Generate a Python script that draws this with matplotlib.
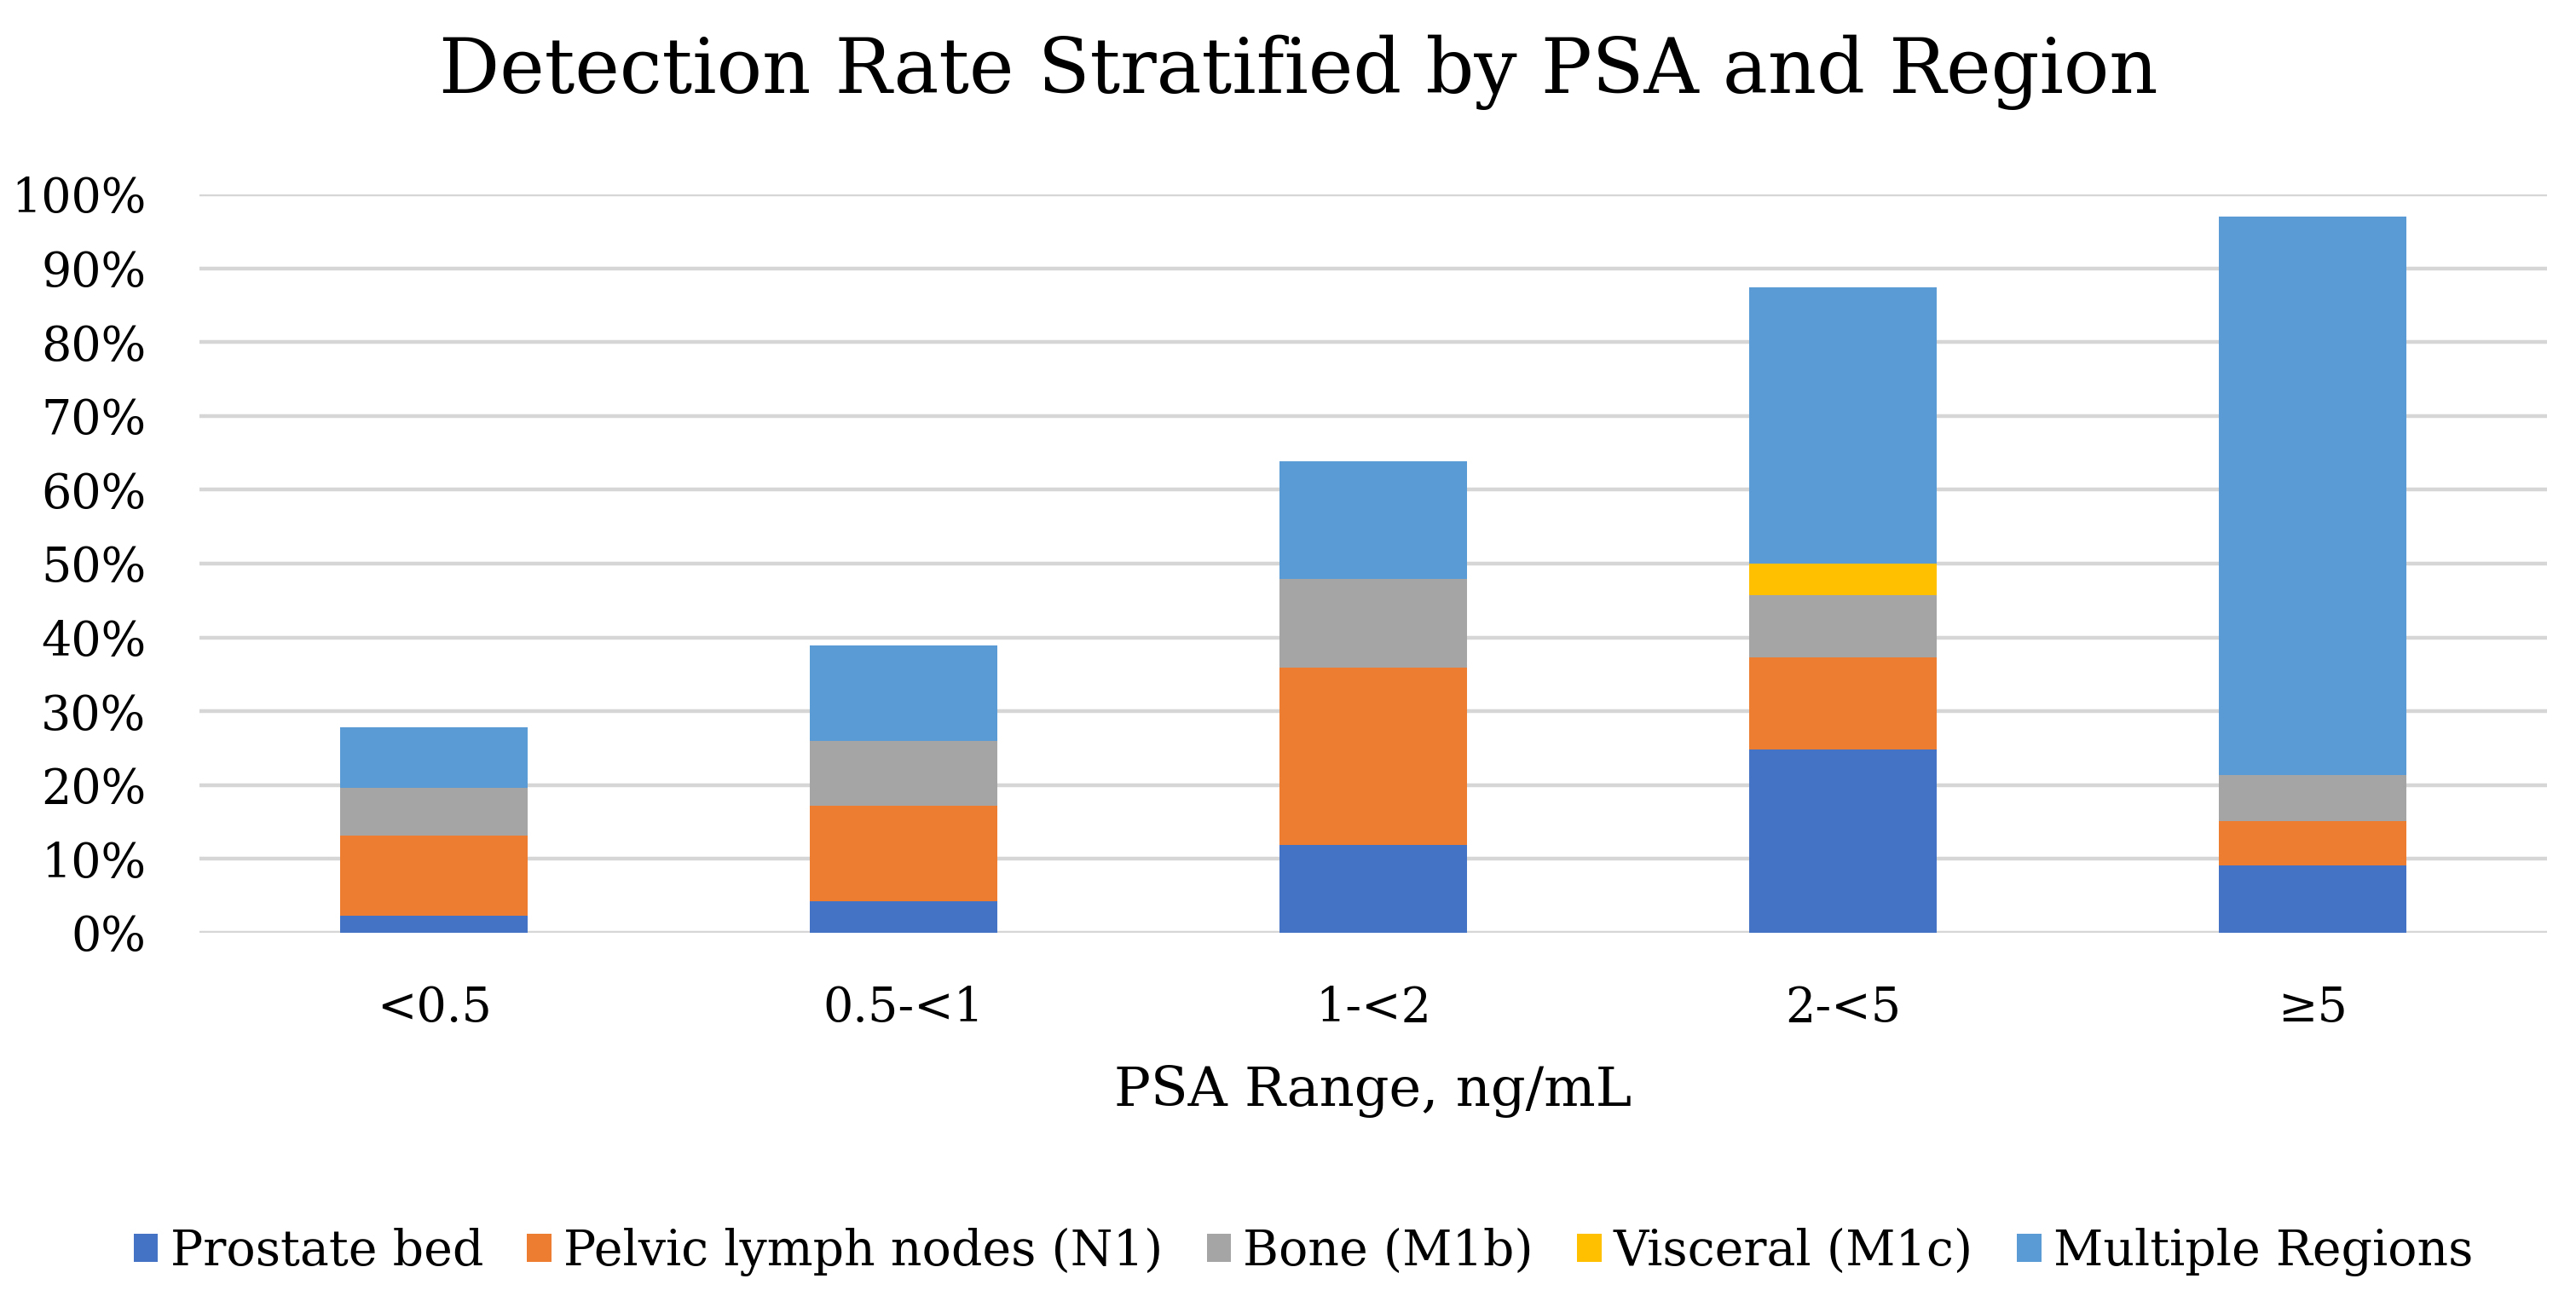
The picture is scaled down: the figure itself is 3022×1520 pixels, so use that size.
import matplotlib
matplotlib.use("Agg")
import matplotlib.pyplot as plt
import numpy as np

# PSA ranges and detection rate per region (percent)
psa_ranges = ["<0.5", "0.5-<1", "1-<2", "2-<5", "\u22655"]
regions = ["Prostate bed", "Pelvic lymph nodes (N1)", "Bone (M1b)",
           "Visceral (M1c)", "Multiple Regions"]
prostate_bed = [2.3, 4.3, 11.9, 24.8, 9.1]
pelvic_nodes = [10.9, 12.9, 24.0, 12.5, 6.0]
bone = [6.4, 8.8, 12.0, 8.4, 6.2]
visceral = [0.0, 0.0, 0.0, 4.3, 0.0]
multiple = [8.2, 12.9, 15.9, 37.4, 75.7]

colors = ["#4472C4", "#ED7D31", "#A5A5A5", "#FFC000", "#5B9BD5"]

plt.rcParams['font.family'] = ['DejaVu Serif']

fig = plt.figure(figsize=(30.22, 15.20), dpi=100)
ax = fig.add_axes([0.0774, 0.2803, 0.9114, 0.5697])

x = np.arange(len(psa_ranges))
bottom = np.zeros(len(psa_ranges))
series = [prostate_bed, pelvic_nodes, bone, visceral, multiple]
for name, vals, c in zip(regions, series, colors):
    vals = np.array(vals) / 100.0
    ax.bar(x, vals, width=0.4, bottom=bottom, color=c, label=name, zorder=3)
    bottom += vals

ax.set_xlim(-0.5, len(psa_ranges) - 0.5)
ax.set_ylim(0, 1.0)
ax.set_yticks(np.arange(0, 1.01, 0.1))
ax.set_yticklabels([f"{int(round(v * 100))}%" for v in np.arange(0, 1.01, 0.1)])
ax.set_xticks(x)
ax.set_xticklabels(psa_ranges)
ax.yaxis.grid(True, color="#d6d6d6", linewidth=3.2, zorder=0)
ax.set_axisbelow(True)
for s in ax.spines.values():
    s.set_visible(False)
ax.tick_params(axis="both", length=0, labelsize=40)
ax.tick_params(axis="y", pad=45)
ax.tick_params(axis="x", pad=44)
ax.set_xlabel("PSA Range, ng/mL", fontsize=46, labelpad=28)

fig.text(0.504, 0.944, "Detection Rate Stratified by PSA and Region",
         ha="center", va="center", fontsize=64)

fig.legend(loc="center", bbox_to_anchor=(0.506, 0.034), ncol=5,
           frameon=False, fontsize=41, handlelength=0.5, handleheight=0.5,
           handletextpad=0.25, columnspacing=0.9)

fig.savefig("out.png", dpi=100)
